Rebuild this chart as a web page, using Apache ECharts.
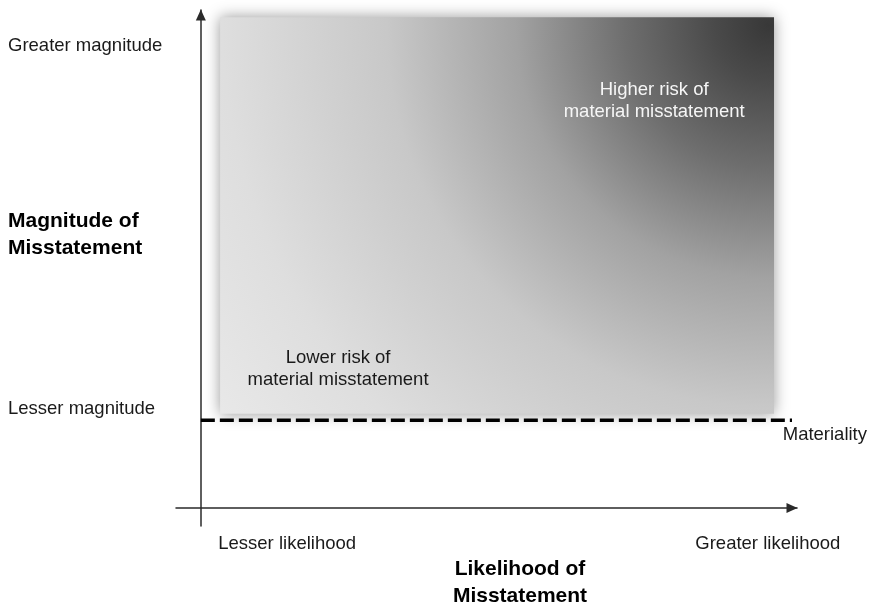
<!DOCTYPE html>
<html><head><meta charset="utf-8">
<script src="https://cdn.jsdelivr.net/npm/echarts@6/dist/echarts.min.js"></script>
<style>html,body{margin:0;padding:0;background:#fff}#c{width:875px;height:602px}</style>
</head><body><div id="c"></div><script>
// ---- data ----
const xTickValues = [13.9, 91.3];
const xTickLabels = ['Lesser likelihood', 'Greater likelihood'];
const yTickValues = [19.2, 89.5];
const yTickLabels = ['Lesser magnitude', 'Greater magnitude'];
const riskArea = [3.1, 18.25, 92.3, 95.1]; // xStart, yStart, xEnd, yEnd
const materialityLevel = 17;
const materialityExtent = [0, 95.2];
const annotationTexts = ['Lower risk of\nmaterial misstatement', 'Higher risk of\nmaterial misstatement', 'Materiality'];
const annotationX = [22.1, 73.0, 93.7];
const annotationY = [26.9, 78.8, 14.1];
const xAxisTitle = 'Likelihood of\nMisstatement';
const yAxisTitle = 'Magnitude of\nMisstatement';

const FONT = '"Liberation Sans", Arial, sans-serif';
const chart = echarts.init(document.getElementById('c'), null, {renderer: 'canvas'});

const annStyles = [
  {color: '#1a1a1a', align: 'center'},
  {color: '#f6f6f6', align: 'center'},
  {color: '#1a1a1a', align: 'left'}
];

chart.setOption({
  animation: false,
  backgroundColor: '#ffffff',
  grid: {left: 176, right: 78, top: 10, bottom: 76, containLabel: false, outerBoundsMode: 'none'},
  xAxis: {
    type: 'value', min: -4, max: 96,
    splitLine: {show: false},
    axisTick: {show: false},
    axisLine: {onZero: true, symbol: ['none', 'triangle'], symbolSize: [10, 11], symbolOffset: [0, -5],
      lineStyle: {color: '#2a2a2a', width: 1.5}},
    axisLabel: {
      customValues: xTickValues,
      formatter: v => xTickLabels[xTickValues.indexOf(v)] || '',
      margin: 8, color: '#1a1a1a', fontSize: 18.5, fontFamily: FONT
    }
  },
  yAxis: {
    type: 'value', min: -3.5, max: 96.5,
    splitLine: {show: false},
    axisTick: {show: false},
    axisLine: {onZero: true, symbol: ['none', 'triangle'], symbolSize: [10, 11], symbolOffset: [0, -5],
      lineStyle: {color: '#2a2a2a', width: 1.5}},
    axisLabel: {
      customValues: yTickValues,
      formatter: v => yTickLabels[yTickValues.indexOf(v)] || '',
      margin: 168, align: 'left', color: '#1a1a1a', fontSize: 18.5, fontFamily: FONT
    }
  },
  graphic: [
    {type: 'text', x: 8, y: 208, style: {text: yAxisTitle, fill: '#000', fontSize: 21, fontWeight: 'bold',
      fontFamily: FONT, lineHeight: 27, align: 'left', verticalAlign: 'top'}},
    {type: 'text', x: 520, y: 556, style: {text: xAxisTitle, fill: '#000', fontSize: 21, fontWeight: 'bold',
      fontFamily: FONT, lineHeight: 26.5, align: 'center', verticalAlign: 'top'}}
  ],
  series: [
    {
      type: 'custom',
      z: 1,
      encode: {x: [0, 2], y: [1, 3]},
      data: [riskArea],
      renderItem: function (params, api) {
        const p0 = api.coord([api.value(0), api.value(3)]);
        const p1 = api.coord([api.value(2), api.value(1)]);
        return {
          type: 'rect',
          shape: {x: p0[0], y: p0[1], width: p1[0] - p0[0], height: p1[1] - p0[1]},
          style: {
            fill: {type: 'radial', x: 0.99, y: 0.02, r: 1.72, colorStops: [
              {offset: 0, color: '#383838'},
              {offset: 0.08, color: '#4a4a4a'},
              {offset: 0.21, color: '#6e6e6e'},
              {offset: 0.37, color: '#a2a2a2'},
              {offset: 0.56, color: '#c8c8c8'},
              {offset: 0.8, color: '#dedede'},
              {offset: 1, color: '#e9e9e9'}
            ]},
            shadowBlur: 14, shadowColor: 'rgba(0,0,0,0.4)'
          }
        };
      }
    },
    {
      type: 'line', z: 3, symbol: 'none', silent: true,
      data: [[materialityExtent[0], materialityLevel], [materialityExtent[1], materialityLevel]],
      lineStyle: {color: '#000', width: 3.5, type: [14, 5]}
    },
    {
      type: 'scatter', z: 4, symbolSize: 0, silent: true,
      itemStyle: {opacity: 1},
      data: annotationTexts.map((t, i) => ({
        name: t, value: [annotationX[i], annotationY[i]],
        label: {show: true, position: 'inside', formatter: '{b}', color: annStyles[i].color,
          align: annStyles[i].align, verticalAlign: 'middle', opacity: 1, textBorderWidth: 0,
          fontSize: 18.5, lineHeight: 22, fontFamily: FONT}
      }))
    }
  ]
});
</script></body></html>
